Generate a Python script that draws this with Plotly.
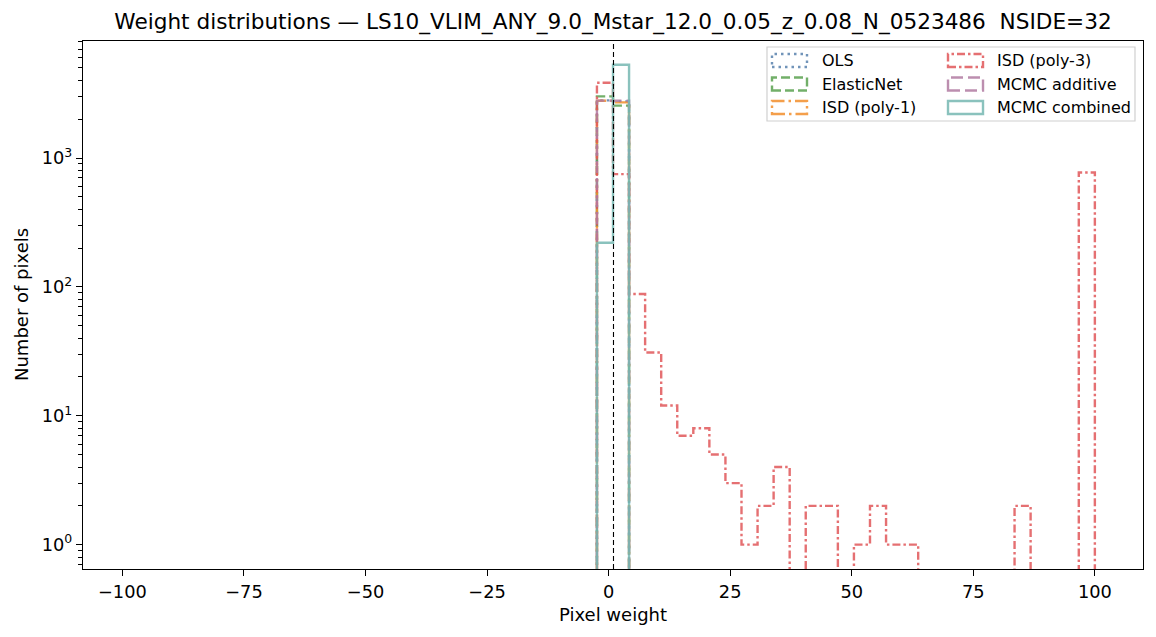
import numpy as np
import plotly.graph_objects as go

# ---------------- data ----------------
bin_lo = -98.2
bin_hi = 100.0
n_bins = 60
ref_weight = 1.0

series_names = ["OLS", "ElasticNet", "ISD (poly-1)", "ISD (poly-3)", "MCMC additive", "MCMC combined"]

# non-zero bin counts (bin index -> number of pixels)
ols_counts = {29: 2800, 30: 2750}
elasticnet_counts = {29: 3010, 30: 2550}
isd1_counts = {29: 2780, 30: 2700}
isd3_counts = {29: 3840, 30: 750, 31: 88, 32: 31, 33: 12, 34: 7, 35: 8, 36: 5, 37: 3,
               38: 1, 39: 2, 40: 4, 42: 2, 43: 2, 45: 1, 46: 2, 47: 1, 48: 1,
               55: 2, 59: 773}
mcmc_add_counts = {29: 2790, 30: 2780}
mcmc_comb_counts = {29: 220, 30: 5300}

series_counts = [ols_counts, elasticnet_counts, isd1_counts, isd3_counts, mcmc_add_counts, mcmc_comb_counts]

colors = ["rgba(78,121,167,0.8)", "rgba(89,161,79,0.85)", "rgba(242,142,43,0.85)",
          "rgba(225,87,89,0.85)", "rgba(176,122,161,0.85)", "rgba(118,183,178,0.85)"]
dashes = ["2.5px,4px", "9px,4px", "13px,4px,2.5px,4px", "8px,3px,2.5px,3px", "12px,5px", "solid"]

title_text = "Weight distributions \u2014 LS10_VLIM_ANY_9.0_Mstar_12.0_0.05_z_0.08_N_0523486 \u00a0NSIDE=32"

# ---------------- figure ----------------
W, H = 1156, 637
ML, MR, MT, MB = 83, 13, 41, 68
PW, PH = W - ML - MR, H - MT - MB

def pxx(p):
    return (p - ML) / PW

def pxy(p):
    return (H - MB - p) / PH

edges = np.linspace(bin_lo, bin_hi, n_bins + 1)
floor = 1e-3

fig = go.Figure()
for name, cnt, col, dsh in zip(series_names, series_counts, colors, dashes):
    c = np.zeros(n_bins)
    for k, v in cnt.items():
        c[k] = v
    c = np.where(c > 0, c, floor)
    xs = [edges[0]]
    ys = [floor]
    for i in range(n_bins):
        xs += [edges[i], edges[i + 1]]
        ys += [c[i], c[i]]
    xs.append(edges[-1])
    ys.append(floor)
    fig.add_trace(go.Scatter(x=xs, y=ys, mode="lines", name=name, showlegend=False,
                             line=dict(color=col, width=2.4, dash=dsh)))

fig.add_shape(type="line", x0=ref_weight, x1=ref_weight, xref="x", y0=0, y1=1, yref="paper",
              line=dict(color="black", width=1.1, dash="5px,3px"))

# ---------- manual legend (matplotlib style) ----------
fig.add_shape(type="rect", xref="paper", yref="paper",
              x0=pxx(767), x1=pxx(1135), y0=pxy(121), y1=pxy(47),
              line=dict(color="#d0d0d0", width=1.2), fillcolor="rgba(255,255,255,0.8)", layer="above")
legend_cols = [(772, 807, 820), (948, 983, 995)]
legend_rows = [60.5, 84, 107.5]
legend_pos = [(0, 0), (0, 1), (0, 2), (1, 0), (1, 1), (1, 2)]
for (ci, ri), name, col, dsh in zip(legend_pos, series_names, colors, dashes):
    x0, x1, xt = legend_cols[ci]
    yc = legend_rows[ri]
    fig.add_shape(type="rect", xref="paper", yref="paper",
                  x0=pxx(x0), x1=pxx(x1), y0=pxy(yc + 6.5), y1=pxy(yc - 6.5),
                  line=dict(color=col, width=2.4, dash=dsh), layer="above")
    fig.add_annotation(x=pxx(xt), y=pxy(yc), xref="paper", yref="paper", text=name,
                       showarrow=False, xanchor="left", yanchor="middle",
                       font=dict(size=16, color="black"))

# axis titles
fig.add_annotation(x=0.5, y=pxy(614), xref="paper", yref="paper", text="Pixel weight",
                   showarrow=False, xanchor="center", yanchor="middle", font=dict(size=18))
fig.add_annotation(x=pxx(21), y=0.5, xref="paper", yref="paper", text="Number of pixels",
                   showarrow=False, textangle=-90, xanchor="center", yanchor="middle", font=dict(size=18))

minor_vals = []
for d in [0.1, 1, 10, 100, 1000]:
    for m in range(2, 10):
        minor_vals.append(m * d)

fig.update_layout(
    width=W, height=H,
    margin=dict(l=ML, r=MR, t=MT, b=MB, pad=0),
    paper_bgcolor="white", plot_bgcolor="white",
    font=dict(family="DejaVu Sans", color="black", size=17.8),
    title=dict(text=title_text, x=0.5, xref="paper", xanchor="center",
               y=1 - 21 / H, yref="container", yanchor="middle", font=dict(size=21.6)),
    showlegend=False,
    xaxis=dict(range=[-108.1, 109.9], tickvals=[-100, -75, -50, -25, 0, 25, 50, 75, 100],
               ticks="outside", ticklen=6, tickwidth=1.2, tickcolor="black",
               showline=True, linecolor="black", linewidth=1.3, mirror=True,
               showgrid=False, zeroline=False, tickfont=dict(size=17.8)),
    yaxis=dict(type="log", range=[np.log10(0.647), 3.908],
               tickvals=[1, 10, 100, 1000],
               ticktext=["10<sup>0</sup>", "10<sup>1</sup>", "10<sup>2</sup>", "10<sup>3</sup>"],
               ticks="outside", ticklen=6, tickwidth=1.2, tickcolor="black",
               minor=dict(tickmode="array", tickvals=minor_vals, ticks="outside", ticklen=3.5,
                          tickwidth=1, tickcolor="black", showgrid=False),
               showline=True, linecolor="black", linewidth=1.3, mirror=True,
               showgrid=False, zeroline=False, tickfont=dict(size=17.8)),
)

fig.write_html("out.html")
